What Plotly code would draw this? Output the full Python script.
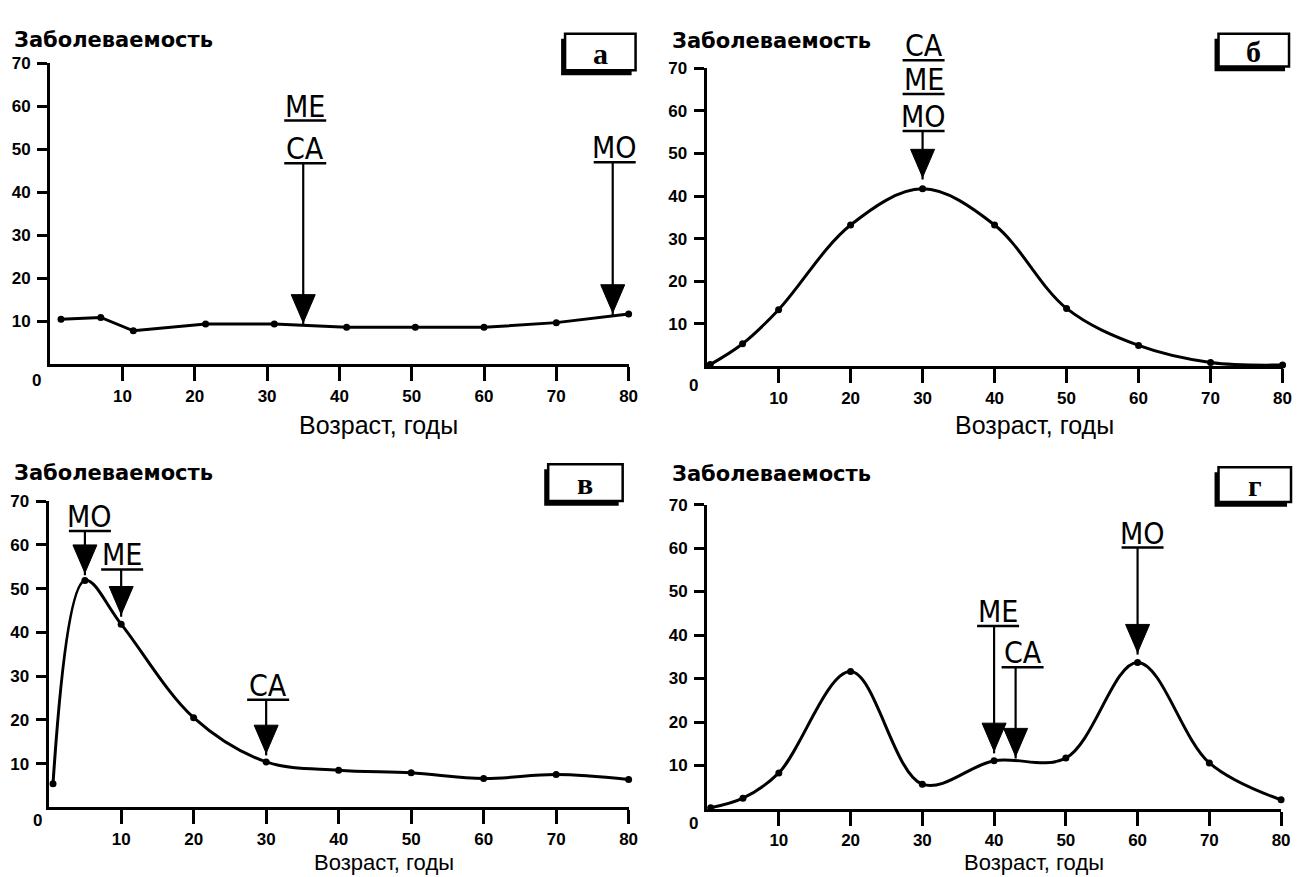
import plotly.graph_objects as go

W, H = 1302, 877

# ---------------- data ----------------
x_ticks = [10, 20, 30, 40, 50, 60, 70, 80]
y_ticks = [10, 20, 30, 40, 50, 60, 70]

age_a = [1.5, 7, 11.5, 21.5, 31, 41, 50.5, 60, 70, 80]
inc_a = [10.5, 10.9, 7.8, 9.4, 9.4, 8.6, 8.6, 8.6, 9.7, 11.7]

age_b = [0.5, 5, 10, 20, 30, 40, 50, 60, 70, 80]
inc_b = [0.4, 5.3, 13.3, 33.2, 41.7, 33.2, 13.6, 4.9, 0.9, 0.3]

age_v = [0.6, 5, 10, 20, 30, 40, 50, 60, 70, 80]
inc_v = [5.4, 51.9, 41.9, 20.5, 10.4, 8.5, 7.9, 6.6, 7.5, 6.4]

age_g = [0.5, 5, 10, 20, 30, 40, 50, 60, 70, 80]
inc_g = [0.3, 2.5, 8.3, 31.6, 5.7, 11.1, 11.7, 33.7, 10.6, 2.1]

# statistics (CA = mean, ME = median, MO = mode): labels (top to bottom), age, arrow tip
stat_labels_a = [["ME", "CA"], ["MO"]]
stat_age_a = [35, 77.8]
stat_tip_a = [9.7, 12.0]

stat_labels_b = [["CA", "ME", "MO"]]
stat_age_b = [30]
stat_tip_b = [44.4]

stat_labels_v = [["MO"], ["ME"], ["CA"]]
stat_age_v = [5, 10, 30]
stat_tip_v = [53.6, 44.1, 12.4]

stat_labels_g = [["ME"], ["CA"], ["MO"]]
stat_age_g = [40, 43, 60]
stat_tip_g = [13.3, 12.1, 36.0]

panel_letters = ["а", "б", "в", "г"]
y_title = "Заболеваемость"
x_title = "Возраст, годы"

# ---------------- layout (pixels) ----------------
XMAX, YMAX = 80, 70
# x0px, x1px, y(0)px, y(70)px
panels_px = [
    (50.5, 633.0, 359.0, 55.0),
    (711.5, 1291.5, 361.0, 60.0),
    (49.0, 633.0, 806.7, 497.3),
    (712.0, 1290.0, 808.3, 500.7),
]
# underline levels (axis units) for each label stack, top to bottom
underline_levels = [
    [[56.7, 46.8], [47.0]],
    [[71.9, 64.0, 55.3]],
    [[63.2], [54.4], [24.6]],
    [[42.1], [32.6], [60.1]],
]
label_xshift = [
    [2, 2],
    [1],
    [5, 1, 2],
    [4, 7, 5],
]
boxes_px = [(565, 25, 640, 67), (1223, 25, 1298, 63), (548, 460, 627, 502), (1223, 463, 1300, 503)]
ytitle_px = [(12, 31), (675, 32), (12, 469), (675, 470)]
xtitle_px = [(381, 420), (1042, 420), (387, 862), (1041, 862)]
xtitle_size = [25, 25, 22, 22]
zero_px = [(37, 375), (698, 380), (37.5, 820), (698, 823)]

datasets = [(age_a, inc_a), (age_b, inc_b), (age_v, inc_v), (age_g, inc_g)]
stats = [
    (stat_labels_a, stat_age_a, stat_tip_a),
    (stat_labels_b, stat_age_b, stat_tip_b),
    (stat_labels_v, stat_age_v, stat_tip_v),
    (stat_labels_g, stat_age_g, stat_tip_g),
]
line_shapes = ["linear", "spline", "spline", "spline"]

TICKFONT = dict(family="Liberation Sans, Arial, sans-serif", size=17, color="black", weight="bold")
LABELFONT = dict(family="Liberation Sans Narrow, DejaVu Sans Condensed, Liberation Sans, sans-serif",
                 size=30, color="black")


def px(x):
    return x / W


def py(y):
    return 1 - y / H


fig = go.Figure()
shapes = []
annotations = []

for i, ((ages, vals), (x0, x1, y0, y1)) in enumerate(zip(datasets, panels_px)):
    n = "" if i == 0 else str(i + 1)
    xa, ya = "x" + n, "y" + n
    fig.add_trace(go.Scatter(
        x=ages, y=vals, xaxis=xa, yaxis=ya, mode="lines+markers",
        line=dict(color="black", width=3, shape=line_shapes[i], smoothing=1.0),
        marker=dict(color="black", size=7), cliponaxis=False, showlegend=False,
        hoverinfo="skip",
    ))
    axis_common = dict(showline=True, linewidth=3, linecolor="black", ticks="outside",
                       tickwidth=2.5, tickcolor="black", showgrid=False, zeroline=False,
                       tickfont=TICKFONT, fixedrange=True)
    fig.layout["xaxis" + n] = dict(axis_common, domain=[px(x0), px(x1)], range=[0, XMAX],
                                   anchor=ya, tickvals=x_ticks, ticklen=14, ticklabelstandoff=0)
    fig.layout["yaxis" + n] = dict(axis_common, domain=[py(y0), py(y1)], range=[0, YMAX],
                                   anchor=xa, tickvals=y_ticks, ticklen=10, ticklabelstandoff=3)

    # statistics arrows and labels
    labels, ages_s, tips = stats[i]
    for k, (lab_stack, xs, tip) in enumerate(zip(labels, ages_s, tips)):
        levels = underline_levels[i][k]
        xsh = label_xshift[i][k]
        lowest = levels[-1]
        # shaft
        shapes.append(dict(type="line", xref=xa, yref=ya, x0=xs, x1=xs, y0=lowest, y1=tip - 0.5,
                           line=dict(color="black", width=2.2)))
        # head
        shapes.append(dict(type="path", xref=xa, yref=ya, xsizemode="pixel", ysizemode="pixel",
                           xanchor=xs, yanchor=tip, path="M -12,28 L 12,28 L 0,0 Z",
                           fillcolor="black", line=dict(color="black", width=1)))
        for lab, lev in zip(lab_stack, levels):
            shapes.append(dict(type="line", xref=xa + " domain", yref=ya + " domain",
                               xsizemode="pixel", xanchor=xs / XMAX, x0=xsh - 21, x1=xsh + 21,
                               y0=lev / YMAX, y1=lev / YMAX, line=dict(color="black", width=2.5)))
            annotations.append(dict(text=lab, xref=xa + " domain", yref=ya + " domain",
                                    x=xs / XMAX, y=lev / YMAX, xanchor="center",
                                    yanchor="bottom", yshift=-5, xshift=xsh, showarrow=False,
                                    font=LABELFONT))

    # panel letter box with shadow
    bx0, by0, bx1, by1 = boxes_px[i]
    shapes.append(dict(type="rect", xref="paper", yref="paper", x0=px(bx0), x1=px(bx1 - 4),
                       y0=py(by1), y1=py(by0 + 5), fillcolor="black", line=dict(width=0)))
    shapes.append(dict(type="rect", xref="paper", yref="paper", x0=px(bx0 + 4), x1=px(bx1),
                       y0=py(by1 - 5), y1=py(by0), fillcolor="white",
                       line=dict(color="black", width=2.5)))
    annotations.append(dict(text=panel_letters[i], xref="paper", yref="paper",
                            x=px((bx0 + 4 + bx1) / 2), y=py((by0 + by1 - 5) / 2 + 1),
                            xanchor="center", yanchor="middle", showarrow=False,
                            font=dict(family="Liberation Serif, serif", size=30, color="black",
                                      weight="bold")))
    # axis titles
    tx, ty = ytitle_px[i]
    annotations.append(dict(text=y_title, xref="paper", yref="paper", x=px(tx), y=py(ty),
                            xanchor="left", yanchor="middle", showarrow=False,
                            font=dict(family="DejaVu Sans, sans-serif", size=21, color="black",
                                      weight="bold")))
    tx, ty = xtitle_px[i]
    annotations.append(dict(text=x_title, xref="paper", yref="paper", x=px(tx), y=py(ty),
                            xanchor="center", yanchor="middle", showarrow=False,
                            font=dict(family="Liberation Sans, Arial, sans-serif",
                                      size=xtitle_size[i], color="black")))
    zx, zy = zero_px[i]
    annotations.append(dict(text="0", xref="paper", yref="paper", x=px(zx), y=py(zy),
                            xanchor="center", yanchor="middle", showarrow=False, font=TICKFONT))

fig.update_layout(
    width=W, height=H, margin=dict(l=0, r=0, t=0, b=0),
    paper_bgcolor="white", plot_bgcolor="white",
    shapes=shapes, annotations=annotations, showlegend=False,
)

fig.write_html("out.html", config={"displayModeBar": False},
               post_script="document.body.style.margin='0px';document.body.style.padding='0px';")
